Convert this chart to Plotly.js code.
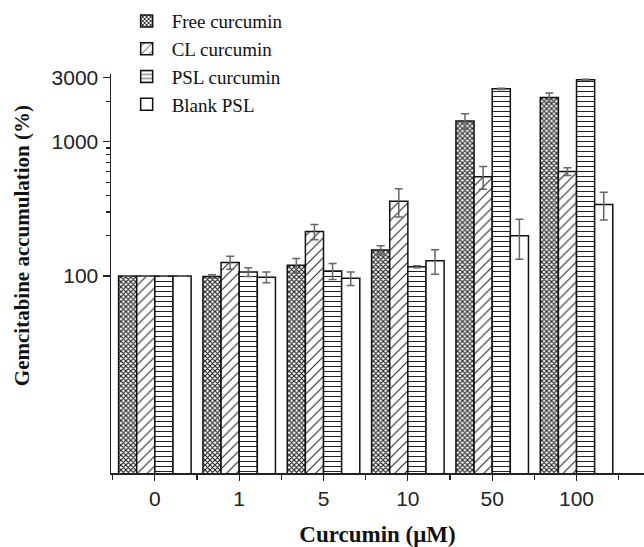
<!DOCTYPE html>
<html><head><meta charset="utf-8">
<script src="https://cdn.plot.ly/plotly-3.0.1.min.js"></script>
<style>body{margin:0;background:#fff}#c{width:644px;height:547px}</style>
</head><body><div id="c"></div>
<script>
const categories = ["0", "1", "5", "10", "50", "100"];
const seriesNames = ["Free curcumin", "CL curcumin", "PSL curcumin", "Blank PSL"];
const freeVals = [100, 99, 120, 156, 1430, 2140];
const freeErr  = [0, 3, 15, 12, 190, 170];
const clVals   = [100, 126, 214, 361, 548, 600];
const clErr    = [0, 14, 28, 86, 105, 40];
const pslVals  = [100, 107, 109, 117, 2480, 2900];
const pslErr   = [0, 8, 15, 2, 30, 30];
const blankVals = [100, 98, 96, 130, 199, 341];
const blankErr  = [0, 9, 11, 27, 66, 80];
const yTickVals = [100, 1000, 3000];
const yMinorVals = [200, 300, 400, 500, 600, 700, 800, 900, 2000];
const yTitle = "Gemcitabine accumulation (%)";
const xTitle = "Curcumin (μM)";

const xIdx = categories.map((c, i) => i);
const patterns = [
  {shape: "x", size: 3.5, solidity: 0.55, fgcolor: "#222", bgcolor: "#fff"},
  {shape: "/", size: 7, solidity: 0.15, fgcolor: "#222", bgcolor: "#fff"},
  {shape: "-", size: 5, solidity: 0.2, fgcolor: "#222", bgcolor: "#fff"},
  {shape: "", fgcolor: "#222", bgcolor: "#fff"}
];
const vals = [freeVals, clVals, pslVals, blankVals];
const errs = [freeErr, clErr, pslErr, blankErr];
const traces = seriesNames.map((n, k) => ({
  type: "bar", name: n, x: xIdx, y: vals[k],
  marker: {color: "#fff", line: {color: "#111", width: 1.5}, pattern: patterns[k]},
  error_y: {type: "data", array: errs[k], visible: true, color: "#666", thickness: 1.5, width: 4}
}));

const layout = {
  width: 644, height: 547,
  margin: {l: 111, r: 0, t: 74, b: 74},
  paper_bgcolor: "#fff", plot_bgcolor: "#fff",
  barmode: "group", bargap: 0.14, bargroupgap: 0,
  showlegend: true,
  legend: {x: 0.02, y: 1.18, xanchor: "left", yanchor: "top", bgcolor: "rgba(0,0,0,0)",
    font: {family: "Liberation Serif", size: 19, color: "#111"}, tracegroupgap: 0, itemwidth: 40},
  annotations: [{
    text: yTitle, xref: "paper", yref: "paper", x: -0.167, y: 0.571,
    xanchor: "center", yanchor: "middle", textangle: -90, showarrow: false,
    font: {family: "Liberation Serif", size: 21, color: "#111", weight: "bold"}
  }],
  xaxis: {
    range: [-0.52, 5.8], tickvals: xIdx, ticktext: categories,
    ticks: "outside", ticklen: 6, tickwidth: 1.2, tickcolor: "#222",
    minor: {tickvals: [-0.5, 0.5, 1.5, 2.5, 3.5, 4.5, 5.5], ticks: "outside", ticklen: 5, tickcolor: "#222", tickwidth: 1.2},
    showline: true, linecolor: "#222", linewidth: 1.5, showgrid: false, zeroline: false,
    tickfont: {family: "Liberation Sans", size: 21, color: "#222"},
    title: {text: xTitle, font: {family: "Liberation Serif", size: 23, color: "#111", weight: "bold"}, standoff: 18}
  },
  yaxis: {
    type: "log", range: [Math.log10(3.4), Math.log10(3200)],
    tickvals: yTickVals, ticktext: yTickVals.map(String),
    ticks: "outside", ticklen: 7, tickwidth: 1.2, tickcolor: "#222",
    minor: {tickvals: yMinorVals, ticks: "outside", ticklen: 4, tickcolor: "#222", tickwidth: 1.2, showgrid: false},
    showline: true, linecolor: "#222", linewidth: 1.5, showgrid: false, zeroline: false,
    tickfont: {family: "Liberation Sans", size: 21, color: "#222"}
  }
};
Plotly.newPlot("c", traces, layout, {displayModeBar: false, staticPlot: true});
</script>
</body></html>
